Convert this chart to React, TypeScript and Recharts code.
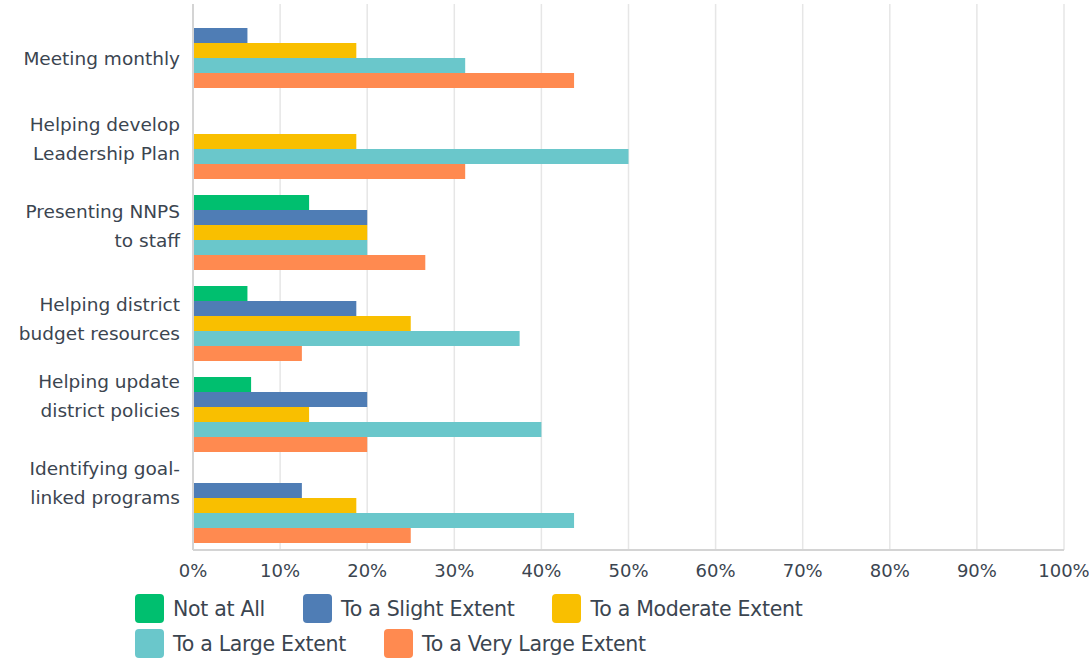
import React from 'react';
import {
  BarChart,
  Bar,
  XAxis,
  YAxis,
  CartesianGrid,
} from 'recharts';

// activity labels, one array entry per printed line
const activities = [
  ['Meeting monthly'],
  ['Helping develop', 'Leadership Plan'],
  ['Presenting NNPS', 'to staff'],
  ['Helping district', 'budget resources'],
  ['Helping update', 'district policies'],
  ['Identifying goal-', 'linked programs'],
];

// share of respondents (%) per activity
const notAtAll = [0, 0, 13.33, 6.25, 6.67, 0];
const slightExtent = [6.25, 0, 20, 18.75, 20, 12.5];
const moderateExtent = [18.75, 18.75, 20, 25, 13.33, 18.75];
const largeExtent = [31.25, 50, 20, 37.5, 40, 43.75];
const veryLargeExtent = [43.75, 31.25, 26.67, 12.5, 20, 25];

const xTicks = [0, 10, 20, 30, 40, 50, 60, 70, 80, 90, 100];

const seriesNames = [
  'Not at All',
  'To a Slight Extent',
  'To a Moderate Extent',
  'To a Large Extent',
  'To a Very Large Extent',
];
const seriesKeys = ['notAtAll', 'slight', 'moderate', 'large', 'veryLarge'];
const seriesColors = ['#00BF6F', '#4F7DB5', '#F9BF00', '#6AC7CB', '#FF8A50'];

const data = activities.map((lines, i) => ({
  name: lines.join(' '),
  lines,
  notAtAll: notAtAll[i],
  slight: slightExtent[i],
  moderate: moderateExtent[i],
  large: largeExtent[i],
  veryLarge: veryLargeExtent[i],
}));

const FONT = '"DejaVu Sans", sans-serif';
const TEXT = '#3b4550';

// small per-row nudges for the wrapped labels
const labelShift = [0, 4, 0, 2, -12, -16];

function ActivityTick(props: any) {
  const { y, payload, index } = props;
  const idx = payload.index ?? index;
  const lines: string[] = data[idx]?.lines ?? [payload.value];
  const shift = labelShift[idx] ?? 0;
  const first = lines.length === 1 ? 15 : -14;
  return (
    <text
      x={180}
      y={y + first + shift}
      textAnchor="end"
      fill={TEXT}
      fontSize={18.5}
      fontFamily={FONT}
    >
      {lines.map((l, k) => (
        <tspan key={k} x={180} dy={k === 0 ? 0 : 29}>
          {l}
        </tspan>
      ))}
    </text>
  );
}

function LegendBlock() {
  const rows = [
    [0, 1, 2],
    [3, 4],
  ];
  return (
    <div
      style={{
        position: 'absolute',
        left: 135,
        top: 591,
        fontFamily: FONT,
        fontSize: 20.5,
        color: TEXT,
      }}
    >
      {rows.map((row, r) => (
        <div key={r} style={{ display: 'flex', height: 35, alignItems: 'center' }}>
          {row.map((s) => (
            <div key={s} style={{ display: 'flex', alignItems: 'center', marginRight: 38 }}>
              <span
                style={{
                  display: 'inline-block',
                  width: 29,
                  height: 29,
                  borderRadius: 4,
                  background: seriesColors[s],
                  marginRight: 9,
                }}
              />
              <span style={{ letterSpacing: -0.3 }}>{seriesNames[s]}</span>
            </div>
          ))}
        </div>
      ))}
    </div>
  );
}

export default function App() {
  return (
    <div style={{ position: 'absolute', left: 0, top: 0, width: 1089, height: 658, background: '#fff' }}>
      <BarChart
        width={1089}
        height={590}
        data={data}
        layout="vertical"
        margin={{ top: 4, right: 25, left: 0, bottom: 0 }}
        barCategoryGap={9}
        barGap={0}
      >
        <CartesianGrid horizontal={false} stroke="#e6e6e6" strokeWidth={1.5} />
        <XAxis
          type="number"
          domain={[0, 100]}
          ticks={xTicks}
          tickFormatter={(v: number) => `${v}%`}
          axisLine={{ stroke: '#d4d4d4', strokeWidth: 2 }}
          tickLine={false}
          height={40}
          tick={{ fill: TEXT, fontSize: 18, fontFamily: FONT }}
          tickMargin={8}
          interval={0}
        />
        <YAxis
          type="category"
          dataKey="name"
          width={193}
          axisLine={{ stroke: '#d4d4d4', strokeWidth: 2 }}
          tickLine={false}
          tick={<ActivityTick />}
          interval={0}
        />
        {seriesKeys.map((k, i) => (
          <Bar
            key={k}
            dataKey={k}
            name={seriesNames[i]}
            fill={seriesColors[i]}
            isAnimationActive={false}
          />
        ))}
      </BarChart>
      <LegendBlock />
    </div>
  );
}
